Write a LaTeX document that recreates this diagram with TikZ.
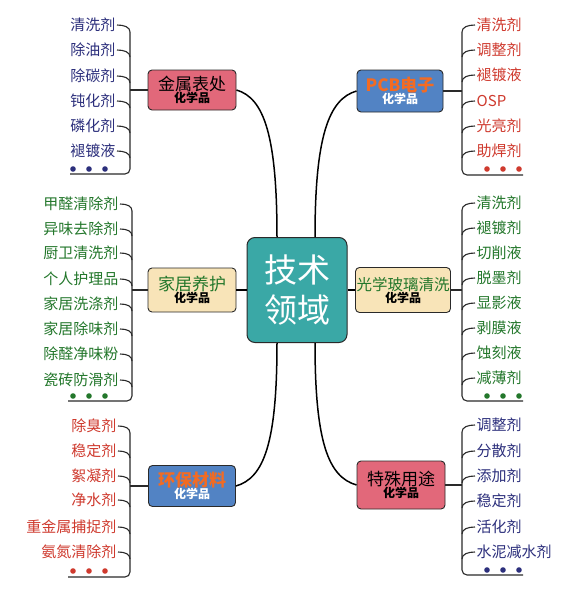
\documentclass[tikz,border=0pt]{standalone}
\usepackage{fontspec}
\newfontfamily\cjk{Noto Sans CJK SC}
\usetikzlibrary{calc}
\definecolor{navyc}{HTML}{2C2F7C}
\definecolor{greenc}{HTML}{23772B}
\definecolor{redc}{HTML}{CF3A2E}
\definecolor{pinkc}{HTML}{E2687A}
\definecolor{bluec}{HTML}{5283C4}
\definecolor{tanc}{HTML}{F8E4B8}
\definecolor{tealc}{HTML}{3AA8A6}
\definecolor{orangec}{HTML}{F36B22}
\definecolor{linec}{HTML}{2A2A2A}
\tikzset{
  leaf/.style={inner sep=1.5pt, font=\cjk\fontsize{15}{15}\selectfont},
  cat/.style={draw=linec, line width=0.9pt, rounded corners=4pt, align=center, inner sep=1pt, font=\cjk},
  brace/.style={draw=linec, line width=1.1pt},
  branch/.style={draw=black, line width=1.5pt},
}
\newcommand{\cattitle}[1]{{\fontsize{17}{19}\selectfont #1}}
\newcommand{\catsub}[1]{{\fontsize{12}{13}\selectfont\bfseries #1}}

\begin{document}
\begin{tikzpicture}[x=1pt,y=-1pt]
    \fill[white] (0,0) rectangle (583,595);
    \useasboundingbox (0,0) rectangle (583,595);

    \node[draw=linec, line width=1pt, fill=tealc, rounded corners=8pt, minimum width=100pt, minimum height=105pt,
          text=white, font=\cjk\fontsize{33}{40}\selectfont, align=center] (jishu) at (297,290) {技术\\领域};

    \node[cat, fill=pinkc, minimum width=88pt, minimum height=40pt] (jinshu) at (192,90) {\cattitle{金属表处}\\\catsub{化学品}};
    \node[cat, fill=bluec, minimum width=86pt, minimum height=42pt] (pcb) at (400,91) {\cattitle{\bfseries\textcolor{orangec}{PCB电子}}\\\catsub{\textcolor{white}{化学品}}};
    \node[cat, fill=tanc, minimum width=88pt, minimum height=44pt] (jiaju) at (192,290) {\cattitle{\textcolor{greenc}{家居养护}}\\\catsub{化学品}};
    \node[cat, fill=tanc, minimum width=93pt, minimum height=45pt] (guangxue) at (403,290) {{\fontsize{15.5}{18}\selectfont\textcolor{greenc}{光学玻璃清洗}}\\\catsub{化学品}};
    \node[cat, fill=bluec, minimum width=87pt, minimum height=41pt] (huanbao) at (192,486) {\cattitle{\bfseries\textcolor{orangec}{环保材料}}\\\catsub{\textcolor{white}{化学品}}};
    \node[cat, fill=pinkc, minimum width=88pt, minimum height=48pt] (teshu) at (401,485) {\cattitle{特殊用途}\\\catsub{化学品}};

    \draw[branch] ($(jishu.north)+(-20,0)$) .. controls +(0,-100) and +(28,8) .. (jinshu.east);
    \draw[branch] ($(jishu.north)+(18,0)$) .. controls +(0,-100) and +(-28,8) .. (pcb.west);
    \draw[branch] ($(jishu.south)+(-20,0)$) .. controls +(0,100) and +(28,-8) .. (huanbao.east);
    \draw[branch] ($(jishu.south)+(18,0)$) .. controls +(0,100) and +(-28,-8) .. (teshu.west);
    \draw[branch] (jishu.west) -- (jiaju.east);
    \draw[branch] (jishu.east) -- (guangxue.west);

    \node[leaf, text=navyc, anchor=east] (a1) at (117,25) {清洗剂};
    \node[leaf, text=navyc, anchor=east] (a2) at (117,50) {除油剂};
    \node[leaf, text=navyc, anchor=east] (a3) at (117,76) {除碳剂};
    \node[leaf, text=navyc, anchor=east] (a4) at (117,101) {钝化剂};
    \node[leaf, text=navyc, anchor=east] (a5) at (117,126) {磷化剂};
    \node[leaf, text=navyc, anchor=east] (a6) at (117,151) {褪镀液};
    \coordinate (barLT) at (130,32);
    \coordinate (endLT) at (70,174);
    \draw[brace, rounded corners=5pt] (barLT) |- (endLT);
    \foreach \i in {1,...,6}
        \draw[brace] (a\i.east) .. controls +(7,0) and +(0,-5) .. ($(a\i.east -| barLT)+(0,7)$);
    \draw[brace] (jinshu.west) -- (jinshu.west -| barLT);
    \fill[navyc] (73,169) circle (2.8) (89,169) circle (2.8) (105,169) circle (2.8);

    \node[leaf, text=redc, anchor=west] (b1) at (475,25) {清洗剂};
    \node[leaf, text=redc, anchor=west] (b2) at (475,50) {调整剂};
    \node[leaf, text=redc, anchor=west] (b3) at (475,75) {褪镀液};
    \node[leaf, text=redc, anchor=west] (b4) at (475,101) {OSP};
    \node[leaf, text=redc, anchor=west] (b5) at (475,126) {光亮剂};
    \node[leaf, text=redc, anchor=west] (b6) at (475,151) {助焊剂};
    \coordinate (barRT) at (462,32);
    \coordinate (endRT) at (523,175);
    \draw[brace, rounded corners=5pt] (barRT) |- (endRT);
    \foreach \i in {1,...,6}
        \draw[brace] (b\i.west) .. controls +(-7,0) and +(0,-5) .. ($(b\i.west -| barRT)+(0,7)$);
    \draw[brace] (pcb.east) -- (pcb.east -| barRT);
    \fill[redc] (487,169) circle (2.8) (503,169) circle (2.8) (519,169) circle (2.8);

    \node[leaf, text=greenc, anchor=east] (c1) at (120,204) {甲醛清除剂};
    \node[leaf, text=greenc, anchor=east] (c2) at (120,229) {异味去除剂};
    \node[leaf, text=greenc, anchor=east] (c3) at (120,253) {厨卫清洗剂};
    \node[leaf, text=greenc, anchor=east] (c4) at (120,279) {个人护理品};
    \node[leaf, text=greenc, anchor=east] (c5) at (120,304) {家居洗涤剂};
    \node[leaf, text=greenc, anchor=east] (c6) at (120,329) {家居除味剂};
    \node[leaf, text=greenc, anchor=east] (c7) at (120,354) {除醛净味粉};
    \node[leaf, text=greenc, anchor=east] (c8) at (120,380) {瓷砖防滑剂};
    \coordinate (barLM) at (132,211);
    \coordinate (endLM) at (68,401);
    \draw[brace, rounded corners=5pt] (barLM) |- (endLM);
    \foreach \i in {1,...,8}
        \draw[brace] (c\i.east) .. controls +(7,0) and +(0,-5) .. ($(c\i.east -| barLM)+(0,7)$);
    \draw[brace] (jiaju.west) -- (jiaju.west -| barLM);
    \fill[greenc] (73,396) circle (2.8) (89,396) circle (2.8) (105,396) circle (2.8);

    \node[leaf, text=greenc, anchor=west] (d1) at (475,203) {清洗剂};
    \node[leaf, text=greenc, anchor=west] (d2) at (475,228) {褪镀剂};
    \node[leaf, text=greenc, anchor=west] (d3) at (475,253) {切削液};
    \node[leaf, text=greenc, anchor=west] (d4) at (475,278) {脱墨剂};
    \node[leaf, text=greenc, anchor=west] (d5) at (475,303) {显影液};
    \node[leaf, text=greenc, anchor=west] (d6) at (475,328) {剥膜液};
    \node[leaf, text=greenc, anchor=west] (d7) at (475,353) {蚀刻液};
    \node[leaf, text=greenc, anchor=west] (d8) at (475,378) {减薄剂};
    \coordinate (barRM) at (462,210);
    \coordinate (endRM) at (523,401);
    \draw[brace, rounded corners=5pt] (barRM) |- (endRM);
    \foreach \i in {1,...,8}
        \draw[brace] (d\i.west) .. controls +(-7,0) and +(0,-5) .. ($(d\i.west -| barRM)+(0,7)$);
    \draw[brace] (guangxue.east) -- (guangxue.east -| barRM);
    \fill[greenc] (487,396) circle (2.8) (503,396) circle (2.8) (519,396) circle (2.8);

    \node[leaf, text=redc, anchor=east] (e1) at (118,426) {除臭剂};
    \node[leaf, text=redc, anchor=east] (e2) at (118,451) {稳定剂};
    \node[leaf, text=redc, anchor=east] (e3) at (118,476) {絮凝剂};
    \node[leaf, text=redc, anchor=east] (e4) at (118,500) {净水剂};
    \node[leaf, text=redc, anchor=east] (e5) at (118,527) {重金属捕捉剂};
    \node[leaf, text=redc, anchor=east] (e6) at (118,552) {氨氮清除剂};
    \coordinate (barLB) at (130,433);
    \coordinate (endLB) at (68,577);
    \draw[brace, rounded corners=5pt] (barLB) |- (endLB);
    \foreach \i in {1,...,6}
        \draw[brace] (e\i.east) .. controls +(7,0) and +(0,-5) .. ($(e\i.east -| barLB)+(0,7)$);
    \draw[brace] (huanbao.west) -- (huanbao.west -| barLB);
    \fill[redc] (73,571) circle (2.8) (89,571) circle (2.8) (105,571) circle (2.8);

    \node[leaf, text=navyc, anchor=west] (f1) at (475,425) {调整剂};
    \node[leaf, text=navyc, anchor=west] (f2) at (475,451) {分散剂};
    \node[leaf, text=navyc, anchor=west] (f3) at (475,476) {添加剂};
    \node[leaf, text=navyc, anchor=west] (f4) at (475,501) {稳定剂};
    \node[leaf, text=navyc, anchor=west] (f5) at (475,527) {活化剂};
    \node[leaf, text=navyc, anchor=west] (f6) at (475,552) {水泥减水剂};
    \coordinate (barRB) at (462,432);
    \coordinate (endRB) at (523,575);
    \draw[brace, rounded corners=5pt] (barRB) |- (endRB);
    \foreach \i in {1,...,6}
        \draw[brace] (f\i.west) .. controls +(-7,0) and +(0,-5) .. ($(f\i.west -| barRB)+(0,7)$);
    \draw[brace] (teshu.east) -- (teshu.east -| barRB);
    \fill[navyc] (487,570) circle (2.8) (503,570) circle (2.8) (519,570) circle (2.8);
\end{tikzpicture}
\end{document}
